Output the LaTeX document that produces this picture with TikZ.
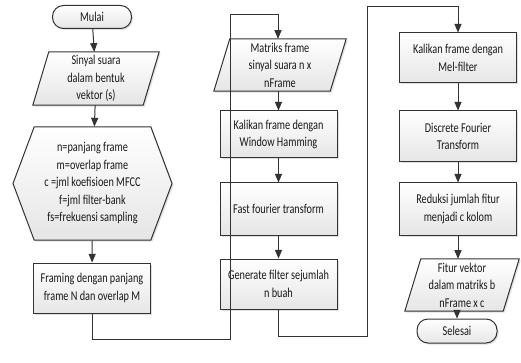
\documentclass[tikz,border=0pt]{standalone}
\usepackage{fontspec}
\setmainfont{Carlito}[FakeStretch=0.76]
\usetikzlibrary{arrows,shapes.geometric,shapes.symbols,shadows,backgrounds}

\begin{document}
\begin{tikzpicture}[x=1pt,y=-1pt,>=triangle 45,
  every node/.append style={align=center,text=black!90,font=\fontsize{13.5}{17.5}\selectfont},
  boxfill/.style={draw=black!80,line width=1pt,top color=white,bottom color=black!10,
    drop shadow={shadow xshift=1.5pt,shadow yshift=-1.5pt,fill=black!25}},
  proc/.style={boxfill,rectangle,minimum width=117pt},
  term/.style={boxfill,rectangle,rounded corners=11pt,minimum width=79pt,minimum height=23pt},
  io/.style={rectangle,minimum height=52pt},
  flow/.style={->,draw=black!80,line width=1pt}]
\useasboundingbox (0,0) rectangle (521,363);
% kolom kiri
\node[term] (mulai) at (92,17) {Mulai};
\node[io,minimum width=110pt,minimum height=53pt] (sinyal) at (96,78.5) {Sinyal suara\\dalam bentuk\\vektor (s)};
\node[boxfill,signal,signal to=west and east,signal pointer angle=139,minimum width=159pt,
  minimum height=113pt,inner sep=0pt] (param) at (92.5,183.5)
  {n=panjang frame\\m=overlap frame\\c =jml koefisioen MFCC\\f=jml filter-bank\\fs=frekuensi sampling};
\node[proc,minimum height=50pt] (framing) at (92,288) {Framing dengan panjang\\frame N dan overlap M};
% kolom tengah
\node[io,minimum width=116pt] (matriks) at (280,65) {Matriks frame\\sinyal suara n x\\nFrame};
\node[proc,minimum height=47pt] (hamming) at (278.5,134.5) {Kalikan frame dengan\\Window Hamming};
\node[proc,minimum height=52pt] (fft) at (278.5,209) {Fast fourier transform};
\node[proc,minimum height=50pt] (filter) at (278.5,284) {Generate filter sejumlah\\n buah};
% kolom kanan
\node[proc,minimum height=50pt] (mel) at (458,58) {Kalikan frame dengan\\Mel-filter};
\node[proc,minimum height=51pt] (dft) at (458,136.5) {Discrete Fourier\\Transform};
\node[proc,minimum height=52pt] (reduksi) at (458,209) {Reduksi jumlah fitur\\menjadi c kolom};
\node[io,minimum width=98pt] (fitur) at (462,285) {Fitur vektor\\dalam matriks b\\nFrame x c};
\node[term,minimum width=80pt,minimum height=24pt] (selesai) at (457,331) {Selesai};
% jajaran genjang input/output
\begin{pgfonlayer}{background}
\foreach \n in {sinyal,matriks,fitur}
  \draw[boxfill] ([xshift=8pt]\n.north west) -- ([xshift=8pt]\n.north east)
    -- ([xshift=-8pt]\n.south east) -- ([xshift=-8pt]\n.south west) -- cycle;
\end{pgfonlayer}
% panah
\draw[flow] (mulai) -- (sinyal);
\draw[flow] (sinyal) -- (param);
\draw[flow] (param) -- (framing);
\draw[flow] (framing.south) |- (230,339) |- (278,15) -- (matriks.north -| 278,15);
\draw[flow] (matriks.south -| hamming.north) -- (hamming);
\draw[flow] (hamming) -- (fft);
\draw[flow] (fft) -- (filter);
\draw[flow] (filter.south) |- (367,336) |- (458,7) -- (mel);
\draw[flow] (mel) -- (dft);
\draw[flow] (dft) -- (reduksi);
\draw[flow] (reduksi) -- (fitur.north -| reduksi.south);
\draw[flow] (fitur.south -| selesai.north) -- (selesai);
\end{tikzpicture}
\end{document}
